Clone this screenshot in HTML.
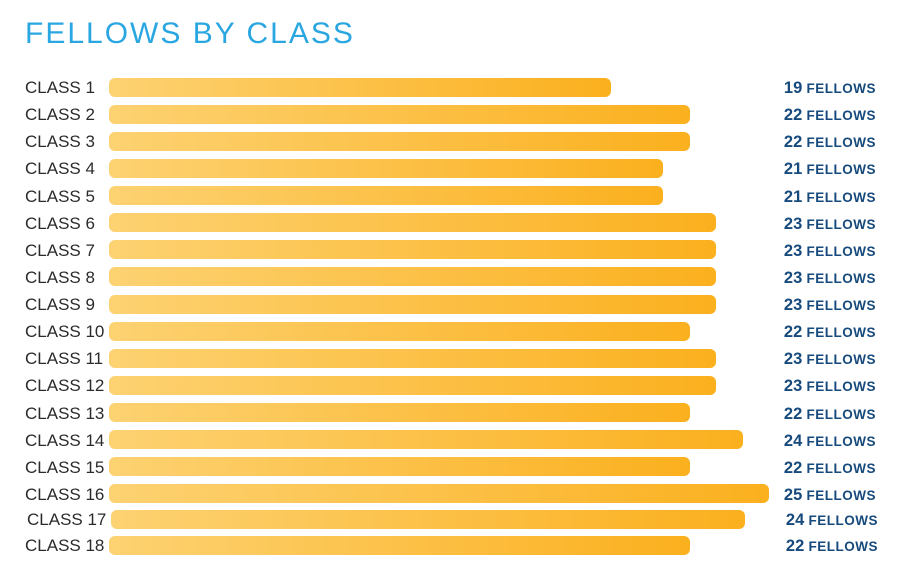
<!DOCTYPE html>
<html><head><style>
body{margin:0;width:900px;height:576px;background:#fff;position:relative;overflow:hidden;font-family:"Liberation Sans",sans-serif}
.t{position:absolute;left:25px;top:17px;font-size:30px;color:#2aa6e0;letter-spacing:2px;font-weight:normal}
.l{position:absolute;left:25px;font-size:17px;color:#2b2b2b;line-height:20px}
.b{position:absolute;height:19px;border-radius:6px;background:linear-gradient(to right,#fdd272,#fbb01e)}
.r{position:absolute;right:24px;font-size:13.5px;color:#174a7c;line-height:20px;font-weight:bold;letter-spacing:0.5px}
.r b{font-size:16.5px;letter-spacing:0}
</style></head><body>
<div class="t">FELLOWS BY CLASS</div>
<div id="c"></div>
<script>
var v=[19,22,22,21,21,23,23,23,23,22,23,23,22,24,22,25,24,22];
var h='';
for(var i=0;i<18;i++){
 var cy=i<16?87+i*27.13:(i==16?519:545);
 var x0=i==16?111:109;
 var w=v[i]*26.4;
 h+='<div class="l" style="top:'+(cy-9)+'px;'+(i==16?'left:27px':'')+'">CLASS '+(i+1)+'</div>';
 h+='<div class="b" style="left:'+x0+'px;top:'+(cy-9.5)+'px;width:'+(w)+'px"></div>';
 h+='<div class="r" style="top:'+(cy-9)+'px;'+(i>=16?'right:22px':'')+'"><b>'+v[i]+'</b> FELLOWS</div>';
}
document.getElementById('c').innerHTML=h;
</script>
</body></html>
